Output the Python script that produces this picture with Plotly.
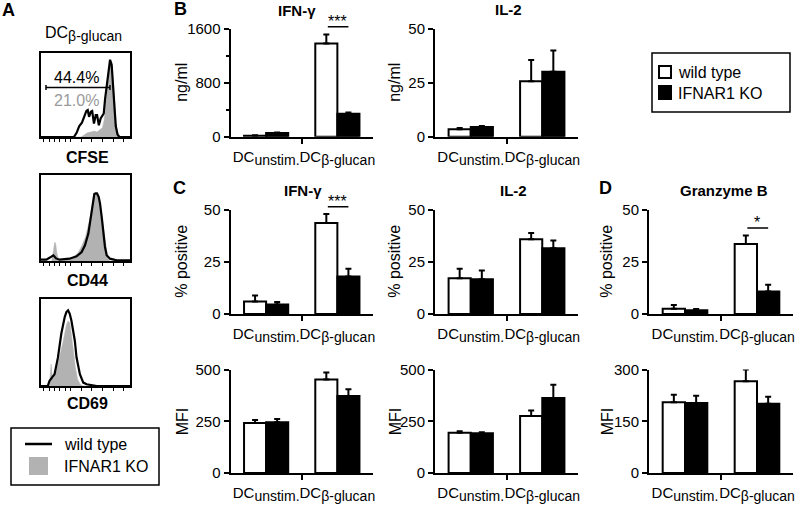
import plotly.graph_objects as go

FONT = "Arial, 'Liberation Sans', sans-serif"

# ---------------- data ----------------
group_pos = [1, 3]
group_labels = ["DC<sub><span style='font-size:14px'>unstim.</span></sub>",
                "DC<sub><span style='font-size:14px'>β-glucan</span></sub>"]
series_names = ["wild type", "IFNAR1 KO"]

# B: secreted cytokines (ng/ml)
b_ifng_wt = [15, 1385]; b_ifng_wt_err = [5, 135]
b_ifng_ko = [55, 340];  b_ifng_ko_err = [6, 20]
b_il2_wt = [3.5, 25.8]; b_il2_wt_err = [0.5, 9.8]
b_il2_ko = [4.5, 30.2]; b_il2_ko_err = [0.5, 9.8]
# C / D: % positive
c_ifng_pct_wt = [6.0, 43.5]; c_ifng_pct_wt_err = [2.8, 4.3]
c_ifng_pct_ko = [4.5, 18.0]; c_ifng_pct_ko_err = [1.2, 3.6]
c_il2_pct_wt = [17.1, 35.8]; c_il2_pct_wt_err = [4.5, 3.0]
c_il2_pct_ko = [16.6, 31.5]; c_il2_pct_ko_err = [4.2, 3.7]
d_gzmb_pct_wt = [2.5, 33.5]; d_gzmb_pct_wt_err = [1.8, 4.1]
d_gzmb_pct_ko = [1.8, 10.8]; d_gzmb_pct_ko_err = [0.6, 3.2]
# C / D: MFI
c_ifng_mfi_wt = [242, 452]; c_ifng_mfi_wt_err = [14, 34]
c_ifng_mfi_ko = [245, 372]; c_ifng_mfi_ko_err = [16, 32]
c_il2_mfi_wt = [195, 275]; c_il2_mfi_wt_err = [7, 27]
c_il2_mfi_ko = [192, 362]; c_il2_mfi_ko_err = [5, 64]
d_gzmb_mfi_wt = [205, 266]; d_gzmb_mfi_wt_err = [22, 34]
d_gzmb_mfi_ko = [203, 201]; d_gzmb_mfi_ko_err = [21, 20]

# A: flow histograms (x: channel, % of box width; y: % of max)
cfse_wt_x = [0, 37, 40, 43, 46, 49, 51, 52.5, 54, 56, 57.5, 59.5, 61.5, 63, 65, 67, 69, 70.5, 72, 74,
             76, 77.6, 79.4, 81, 82.5, 84, 86, 88, 100]
cfse_wt_y = [0, 0, 5, 13, 17, 25, 31, 32, 24, 30, 31, 16, 26, 26, 14, 22, 25, 28, 45, 64,
             82, 92, 86, 60, 35, 13, 3, 0, 0]
cfse_ko_x = [0, 45, 48, 52, 56, 60, 63, 66, 69, 71, 73, 75, 77.6, 79.5, 81, 83, 85, 87, 89, 100]
cfse_ko_y = [0, 0, 2, 5, 6, 7, 6, 9, 11, 20, 40, 65, 89, 85, 62, 32, 10, 2, 0, 0]

cd44_wt_x = [0, 6, 10, 13.9, 16.9, 21, 32, 40, 45.7, 49.4, 53.2, 55.8, 58, 59.9, 61.4, 62.9, 64.8,
             66.3, 68.2, 70, 71.9, 73.8, 77.5, 85, 100]
cd44_wt_y = [1.5, 1.5, 4, 6.6, 3, 1.5, 2.7, 5.4, 10.5, 18.3, 31.9, 51.4, 68.9, 77.8, 78.6, 78.6, 74.7,
             66.9, 51.4, 31.9, 16.3, 6.6, 2.7, 0.8, 0.8]
cd44_ko_x = [0, 12, 14, 15.4, 16.5, 18, 20, 25, 35, 42, 46, 50, 54, 57, 60, 62, 64, 66, 68, 70, 72,
             73.5, 75, 77, 100]
cd44_ko_y = [0, 0, 12, 22, 20, 8, 1, 0.5, 3, 10, 18, 28, 45, 62, 75, 78, 76, 70, 55, 42, 28, 12, 3, 0, 0]

cd69_wt_x = [0, 7.6, 9.5, 15.2, 19, 22.8, 26.6, 28.5, 30.4, 32.3, 34.2, 36.1, 38, 39.9, 43.7, 47.5,
             51.3, 62.7, 100]
cd69_wt_y = [0, 0, 5.8, 13.6, 32.6, 60, 79, 85, 87, 83, 75, 65, 52, 33, 13.6, 3.9, 2, 0, 0]
cd69_ko_x = [0, 8, 10, 11.4, 12.5, 14, 17, 21, 25, 28.5, 30.5, 32.5, 34, 36.5, 38.5, 41, 44, 47, 100]
cd69_ko_y = [0, 0, 8, 25, 12, 8, 17, 33, 52, 70, 75, 72, 62, 40, 22, 8, 2, 0, 0]

cfse_gate = [5.6, 77.5]
cfse_pct_wt = "44.4%"
cfse_pct_ko = "21.0%"

# ---------------- helpers ----------------
W, H = 800, 506
def PX(p): return p / W
def PY(p): return 1 - p / H

fig = go.Figure()
layout_axes = {}
annotations = []
shapes = []
GRAY = "#b2b2b2"

def text_ann(px, py, text, size=16, bold=False, color="black", xanchor="center", angle=0):
    annotations.append(dict(x=PX(px), y=PY(py), xref="paper", yref="paper",
                            text=f"<b>{text}</b>" if bold else text, showarrow=False,
                            xanchor=xanchor, yanchor="middle", textangle=angle,
                            font=dict(family=FONT, size=size, color=color)))

# ---------------- panel A histograms ----------------
hists = [
    (cfse_wt_x, cfse_wt_y, cfse_ko_x, cfse_ko_y, (53, 137), "CFSE", 157),
    (cd44_wt_x, cd44_wt_y, cd44_ko_x, cd44_ko_y, (175, 261), "CD44", 280),
    (cd69_wt_x, cd69_wt_y, cd69_ko_x, cd69_ko_y, (299, 386), "CD69", 403),
]
hist_ticks = [3, 9, 15, 21, 27, 33, 45, 57, 69, 81, 93]
for i, (wx, wy, kx, ky, (top, bot), label, ly) in enumerate(hists, start=1):
    xa, ya = f"x{i}", f"y{i}"
    fig.add_trace(go.Scatter(x=kx, y=ky, mode="lines", fill="tozeroy", fillcolor=GRAY,
                             line=dict(color=GRAY, width=0.5), xaxis=xa, yaxis=ya,
                             showlegend=False, hoverinfo="skip"))
    fig.add_trace(go.Scatter(x=wx, y=wy, mode="lines", line=dict(color="black", width=2.2),
                             xaxis=xa, yaxis=ya, showlegend=False, hoverinfo="skip"))
    layout_axes[f"xaxis{i}"] = dict(domain=[PX(41), PX(130)], range=[0, 100], anchor=ya,
                                    showline=True, mirror=True, linewidth=2, linecolor="black",
                                    ticks="outside", tickvals=hist_ticks, ticklen=3, tickwidth=1,
                                    tickcolor="black", showticklabels=False, showgrid=False,
                                    zeroline=False, fixedrange=True, automargin=False)
    layout_axes[f"yaxis{i}"] = dict(domain=[PY(bot), PY(top)], range=[0, 100], anchor=xa,
                                    showline=True, mirror=True, linewidth=2, linecolor="black",
                                    ticks="", showticklabels=False, showgrid=False,
                                    zeroline=False, fixedrange=True, automargin=False)
    text_ann(87, ly, label, size=16, bold=True)

# CFSE gate + percentages
shapes.append(dict(type="line", xref="x", yref="y", x0=cfse_gate[0], x1=cfse_gate[1], y0=59, y1=59,
                   line=dict(color="black", width=1.5)))
for gx in cfse_gate:
    shapes.append(dict(type="line", xref="x", yref="y", x0=gx, x1=gx, y0=56, y1=62,
                       line=dict(color="black", width=1.5)))
annotations.append(dict(x=40, y=71, xref="x", yref="y", text=cfse_pct_wt, showarrow=False,
                        xanchor="center", yanchor="middle",
                        font=dict(family=FONT, size=16, color="black")))
annotations.append(dict(x=40, y=44, xref="x", yref="y", text=cfse_pct_ko, showarrow=False,
                        xanchor="center", yanchor="middle",
                        font=dict(family=FONT, size=16, color="#9a9a9a")))
text_ann(83, 34, "DC<sub><span style='font-size:14px'>β-glucan</span></sub>", size=16)

# panel A legend (manual)
shapes.append(dict(type="rect", xref="paper", yref="paper", x0=PX(11), x1=PX(159), y0=PY(485), y1=PY(428),
                   line=dict(color="black", width=1.5)))
shapes.append(dict(type="line", xref="paper", yref="paper", x0=PX(25), x1=PX(52), y0=PY(444), y1=PY(444),
                   line=dict(color="black", width=2.5)))
shapes.append(dict(type="rect", xref="paper", yref="paper", x0=PX(29), x1=PX(48), y0=PY(475), y1=PY(457),
                   fillcolor=GRAY, line=dict(width=0)))
text_ann(62, 444, series_names[0], xanchor="left")
text_ann(62, 466, series_names[1], xanchor="left")

# bar legend (manual, top right)
shapes.append(dict(type="rect", xref="paper", yref="paper", x0=PX(652), x1=PX(790), y0=PY(112), y1=PY(53),
                   line=dict(color="black", width=1.5)))
shapes.append(dict(type="rect", xref="paper", yref="paper", x0=PX(659), x1=PX(671), y0=PY(78), y1=PY(66),
                   fillcolor="white", line=dict(color="black", width=2)))
shapes.append(dict(type="rect", xref="paper", yref="paper", x0=PX(659), x1=PX(671), y0=PY(99), y1=PY(86),
                   fillcolor="black", line=dict(color="black", width=2)))
text_ann(676, 72, series_names[0], xanchor="left")
text_ann(676, 93, series_names[1], xanchor="left")

# ---------------- bar panels ----------------
cols = [(230.5, 373), (435, 578), (649, 793)]
rows = [(136.7, 29), (314, 209.5), (473, 369.5)]
ytitle_x = [182, 395, 607]

panels = [
    dict(col=0, row=0, wt=b_ifng_wt, wte=b_ifng_wt_err, ko=b_ifng_ko, koe=b_ifng_ko_err,
         ymax=1600, ticks=[0, 800, 1600], minor=[400, 1200], ytitle="ng/ml", title="IFN-γ", sig="***"),
    dict(col=1, row=0, wt=b_il2_wt, wte=b_il2_wt_err, ko=b_il2_ko, koe=b_il2_ko_err,
         ymax=50, ticks=[0, 25, 50], minor=None, ytitle="ng/ml", title="IL-2", sig=None),
    dict(col=0, row=1, wt=c_ifng_pct_wt, wte=c_ifng_pct_wt_err, ko=c_ifng_pct_ko, koe=c_ifng_pct_ko_err,
         ymax=50, ticks=[0, 25, 50], minor=None, ytitle="% positive", title="IFN-γ", sig="***"),
    dict(col=1, row=1, wt=c_il2_pct_wt, wte=c_il2_pct_wt_err, ko=c_il2_pct_ko, koe=c_il2_pct_ko_err,
         ymax=50, ticks=[0, 25, 50], minor=None, ytitle="% positive", title="IL-2", sig=None),
    dict(col=2, row=1, wt=d_gzmb_pct_wt, wte=d_gzmb_pct_wt_err, ko=d_gzmb_pct_ko, koe=d_gzmb_pct_ko_err,
         ymax=50, ticks=[0, 25, 50], minor=None, ytitle="% positive", title="Granzyme B", sig="*"),
    dict(col=0, row=2, wt=c_ifng_mfi_wt, wte=c_ifng_mfi_wt_err, ko=c_ifng_mfi_ko, koe=c_ifng_mfi_ko_err,
         ymax=500, ticks=[0, 250, 500], minor=None, ytitle="MFI", title=None, sig=None),
    dict(col=1, row=2, wt=c_il2_mfi_wt, wte=c_il2_mfi_wt_err, ko=c_il2_mfi_ko, koe=c_il2_mfi_ko_err,
         ymax=500, ticks=[0, 250, 500], minor=None, ytitle="MFI", title=None, sig=None),
    dict(col=2, row=2, wt=d_gzmb_mfi_wt, wte=d_gzmb_mfi_wt_err, ko=d_gzmb_mfi_ko, koe=d_gzmb_mfi_ko_err,
         ymax=300, ticks=[0, 150, 300], minor=None, ytitle="MFI", title=None, sig=None),
]
title_xy = {(0, 0): (297, 11), (1, 0): (508, 10), (0, 1): (303, 190), (1, 1): (513, 190), (2, 1): (724, 190)}

BW = 0.62
for n, p in enumerate(panels, start=4):
    xa, ya = f"x{n}", f"y{n}"
    c0, c1 = cols[p["col"]]
    r0, r1 = rows[p["row"]]
    for vals, errs, color, name in [(p["wt"], p["wte"], "white", series_names[0]),
                                    (p["ko"], p["koe"], "black", series_names[1])]:
        fig.add_trace(go.Bar(
            x=group_pos, y=vals, width=BW, offset=-BW if color == "white" else 0,
            marker=dict(color=color, line=dict(color="black", width=2)),
            error_y=dict(type="data", array=errs, arrayminus=[0] * len(errs), symmetric=False,
                         color="black", thickness=2, width=3),
            name=name, showlegend=False, xaxis=xa, yaxis=ya, hoverinfo="skip"))
    layout_axes[f"xaxis{n}"] = dict(
        domain=[PX(c0), PX(c1)], range=[0, 4], anchor=ya, showline=True, linewidth=2, linecolor="black",
        tickvals=group_pos, ticktext=group_labels, ticks="outside", ticklen=5,
        tickcolor="rgba(0,0,0,0)", tickangle=0,
        tickfont=dict(family=FONT, size=15, color="black"),
        minor=dict(tickvals=[2], ticks="outside", ticklen=5, tickwidth=2, tickcolor="black"),
        showgrid=False, zeroline=False, fixedrange=True, automargin=False)
    ydict = dict(
        domain=[PY(r0), PY(r1)], range=[0, p["ymax"]], anchor=xa, showline=True, linewidth=2,
        linecolor="black", tickvals=p["ticks"], ticktext=[str(t) for t in p["ticks"]],
        ticks="outside", ticklen=5, tickwidth=2, tickcolor="black",
        tickfont=dict(family=FONT, size=15, color="black"),
        showgrid=False, zeroline=False, fixedrange=True, automargin=False)
    if p["minor"]:
        ydict["minor"] = dict(tickvals=p["minor"], ticks="outside", ticklen=3, tickwidth=1.5,
                              tickcolor="black")
    layout_axes[f"yaxis{n}"] = ydict
    text_ann(ytitle_x[p["col"]], (r0 + r1) / 2, p["ytitle"], size=16, angle=-90)
    if p["title"]:
        tx, ty = title_xy[(p["col"], p["row"])]
        text_ann(tx, ty, p["title"], size=15, bold=True)
    if p["sig"]:
        top = max(p["wt"][1] + p["wte"][1], p["ko"][1] + p["koe"][1]) + 0.07 * p["ymax"]
        d0, d1 = PY(r0), PY(r1)
        yp = d0 + (top / p["ymax"]) * (d1 - d0)
        xl, xr = group_pos[1] - BW / 2, group_pos[1] + BW / 2
        annotations.append(dict(x=xr, y=yp, ax=xl, ay=0, xref=xa, yref="paper",
                                axref=xa, ayref="pixel",
                                text="", showarrow=True, arrowhead=0, arrowwidth=1.5, arrowcolor="black",
                                standoff=0, startstandoff=0))
        annotations.append(dict(x=group_pos[1], y=yp, xref=xa, yref="paper", text=p["sig"],
                                showarrow=False, xanchor="center", yanchor="bottom", yshift=-5,
                                font=dict(family=FONT, size=16, color="black")))

# panel letters
for letter, (lx, ly) in {"A": (8, 10), "B": (180, 9), "C": (179, 188), "D": (605, 188)}.items():
    text_ann(lx, ly, letter, size=18, bold=True)

fig.update_layout(
    width=W, height=H, margin=dict(l=0, r=0, t=0, b=0, autoexpand=False),
    paper_bgcolor="white", plot_bgcolor="rgba(0,0,0,0)",
    barmode="overlay", font=dict(family=FONT, color="black"),
    showlegend=False,
    annotations=annotations, shapes=shapes,
    **layout_axes,
)

fig.write_html("out.html", config={"displayModeBar": False, "staticPlot": True},
               post_script="document.body.style.margin='0px';document.body.style.overflow='hidden';")
